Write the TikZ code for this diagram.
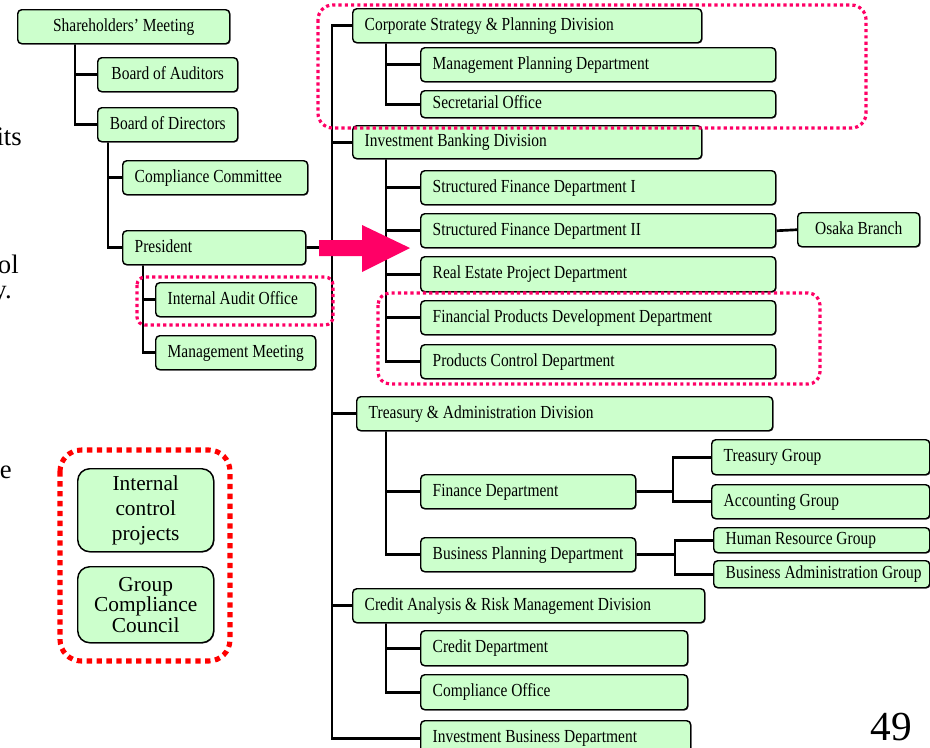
\documentclass[tikz,border=0pt]{standalone}
\usepackage{fontspec}
\setmainfont{Liberation Serif}
\newfontfamily\boxfont{Liberation Serif}[FakeStretch=0.84, Ligatures=TeX]
\usetikzlibrary{calc,shadows,backgrounds}
\definecolor{boxfill}{RGB}{204,255,204}
\definecolor{hlpink}{RGB}{255,0,102}
\definecolor{hlred}{RGB}{255,0,0}

\tikzset{
  box/.style={draw=black, line width=1.1pt, fill=boxfill, rounded corners=3pt,
    inner xsep=9pt, inner ysep=0pt, font=\boxfont\fontsize{13.8}{16}\selectfont,
    drop shadow={shadow xshift=0.6pt, shadow yshift=-0.6pt, fill=black!55, opacity=1}},
  conn/.style={draw=black, line width=2pt},
  pinkdot/.style={draw=hlpink, line width=2.4pt, dash pattern=on 2.4pt off 2.3pt},
  reddot/.style={draw=hlred, line width=3.8pt, dash pattern=on 4pt off 3.4pt, rounded corners=16pt},
  frag/.style={font=\fontsize{20}{24}\selectfont, inner sep=0pt},
}

% \obox{l|c}{name}{x1}{y1}{x2}{y2}{text}  -- one-line box, corners in px units
\newcommand\obox[7]{%
  \pgfmathsetmacro\obw{0.75*(#5-#3)}%
  \pgfmathsetmacro\obh{0.75*(#6-#4)}%
  \pgfmathsetmacro\otw{\obw-18}%
  \node[box, anchor=north west, minimum width=\obw pt, minimum height=\obh pt]
    (#2) at (#3,#4) {\raisebox{-0.4pt}{\makebox[\otw pt][#1]{\strut #7}}};}

% \bigbox{name}{x1}{y1}{x2}{y2}{font}{lines}  -- centred multi-line box
\newcommand\bigbox[7]{%
  \pgfmathsetmacro\obw{0.75*(#4-#2)}%
  \pgfmathsetmacro\obh{0.75*(#5-#3)}%
  \pgfmathsetmacro\otw{\obw-18}%
  \node[box, rounded corners=9pt, align=center, font=#6, anchor=north west,
        minimum width=\obw pt, minimum height=\obh pt, text width=\otw pt]
    (#1) at (#2,#3) {#7};}

\begin{document}
\begin{tikzpicture}[x=0.75pt, y=-0.75pt]
\useasboundingbox (0,0) rectangle (930,747);
\clip (0,0) rectangle (930,747);

% text running in from the left margin
\node[frag, anchor=base east] (fa) at (22,145) {its};
\node[frag, anchor=base east] (fb) at (19,273) {ol};
\node[frag, anchor=base east] (fc) at (12,298) {y.};
\node[frag, anchor=base east] (fd) at (12,478) {e};

% page number
\node[font=\fontsize{31}{36}\selectfont, anchor=base east, inner sep=0pt] (pg) at (912,740) {49};

% governance side
\obox{c}{shm}{17}{9}{229}{43}{Shareholders’ Meeting}
\obox{c}{boa}{97}{57}{237}{91}{Board of Auditors}
\obox{c}{bod}{97}{107}{237}{141}{Board of Directors}
\obox{l}{cco}{122}{160}{307}{194}{Compliance Committee}
\obox{l}{pre}{122}{230}{305}{264}{President}
\obox{l}{iao}{155}{282}{315}{316}{Internal Audit Office}
\obox{l}{mme}{155}{335}{315}{369}{Management Meeting}

\bigbox{icp}{77}{468}{213}{551}{\fontsize{16}{19}\selectfont}{Internal\\control\\projects}
\bigbox{gcc}{77}{566}{213}{642}{\fontsize{16}{15.4}\selectfont}{Group\\Compliance\\Council}

% divisions and departments
\obox{l}{csp}{352}{8}{701}{42}{Corporate Strategy \& Planning Division}
\obox{l}{mpd}{420}{47}{775}{81}{Management Planning Department}
\obox{l}{sec}{420}{90}{775}{117}{Secretarial Office}
\obox{l}{ibk}{352}{125}{701}{158}{Investment Banking Division}
\obox{l}{sf1}{420}{170}{775}{204}{Structured Finance Department I}
\obox{l}{sf2}{420}{213}{775}{247}{Structured Finance Department II}
\obox{c}{osa}{797}{212}{919}{246}{Osaka Branch}
\obox{l}{rep}{420}{256}{775}{291}{Real Estate Project Department}
\obox{l}{fpd}{420}{300}{775}{334}{Financial Products Development Department}
\obox{l}{pcd}{420}{344}{775}{378}{Products Control Department}
\obox{l}{tad}{356}{396}{772}{430}{Treasury \& Administration Division}
\obox{l}{fin}{420}{474}{635}{508}{Finance Department}
\obox{l}{bpd}{420}{537}{635}{571}{Business Planning Department}
\obox{l}{trg}{711}{439}{929}{474}{Treasury Group}
\obox{l}{acg}{711}{484}{929}{518}{Accounting Group}
\obox{l}{hrg}{713}{527}{929}{552}{Human Resource Group}
\obox{l}{bag}{713}{560}{929}{587}{Business Administration Group}
\obox{l}{car}{352}{588}{704}{622}{Credit Analysis \& Risk Management Division}
\obox{l}{crd}{420}{630}{687}{665}{Credit Department}
\obox{l}{cof}{420}{674}{687}{709}{Compliance Office}
\obox{l}{ibd}{420}{720}{690}{755}{Investment Business Department}

% connector columns
\coordinate (c1) at (75,0);
\coordinate (c2) at (108,0);
\coordinate (c3) at (143,0);
\coordinate (bus) at (332,0);
\coordinate (sub) at (386,0);
\coordinate (g1) at (673,0);
\coordinate (g2) at (675,0);

\begin{scope}[on background layer]
  \draw[conn] (c1 |- shm.south) |- (bod.west);
  \draw[conn] (c1 |- boa.west) -- (boa.west);
  \draw[conn] (c2 |- bod.south) |- (pre.west);
  \draw[conn] (c2 |- cco.west) -- (cco.west);
  \draw[conn] (c3 |- pre.south) |- (mme.west);
  \draw[conn] (c3 |- iao.west) -- (iao.west);
  \draw[conn] (pre.east) -- (bus |- pre.east);

  \draw[conn] (csp.west) -| (bus |- ibd.west) -- (ibd.west);
  \foreach \n in {ibk,tad,car} \draw[conn] (bus |- \n.west) -- (\n.west);

  \draw[conn] (sub |- csp.south) |- (sec.west);
  \draw[conn] (sub |- mpd.west) -- (mpd.west);
  \draw[conn] (sub |- ibk.south) |- (pcd.west);
  \foreach \n in {sf1,sf2,rep,fpd} \draw[conn] (sub |- \n.west) -- (\n.west);
  \draw[conn] (sub |- tad.south) |- (bpd.west);
  \draw[conn] (sub |- fin.west) -- (fin.west);
  \draw[conn] (sub |- car.south) |- (cof.west);
  \draw[conn] (sub |- crd.west) -- (crd.west);

  \draw[conn] (sf2.east) -- (osa.west);
  \draw[conn] (fin.east) -- (g1 |- fin.east);
  \draw[conn] (trg.west) -| (g1 |- acg.west) -- (acg.west);
  \draw[conn] (bpd.east) -- (g2 |- bpd.east);
  \draw[conn] (hrg.west) -| (g2 |- bag.west) -- (bag.west);
\end{scope}

% highlight arrow from the president line
\fill[hlpink] (319,240) -- (362,240) -- (362,225) -- (410,248) -- (362,272)
  -- (362,256) -- (319,256) -- cycle;

% dotted highlight frames
\draw[pinkdot, rounded corners=11pt] (318,5) rectangle (866,128);
\draw[pinkdot, rounded corners=9pt] (378,293) rectangle (820,384);
\draw[pinkdot, rounded corners=6pt] (137,277) rectangle (333,325);
\draw[reddot] (60,450) rectangle (230,661);
\end{tikzpicture}
\end{document}
